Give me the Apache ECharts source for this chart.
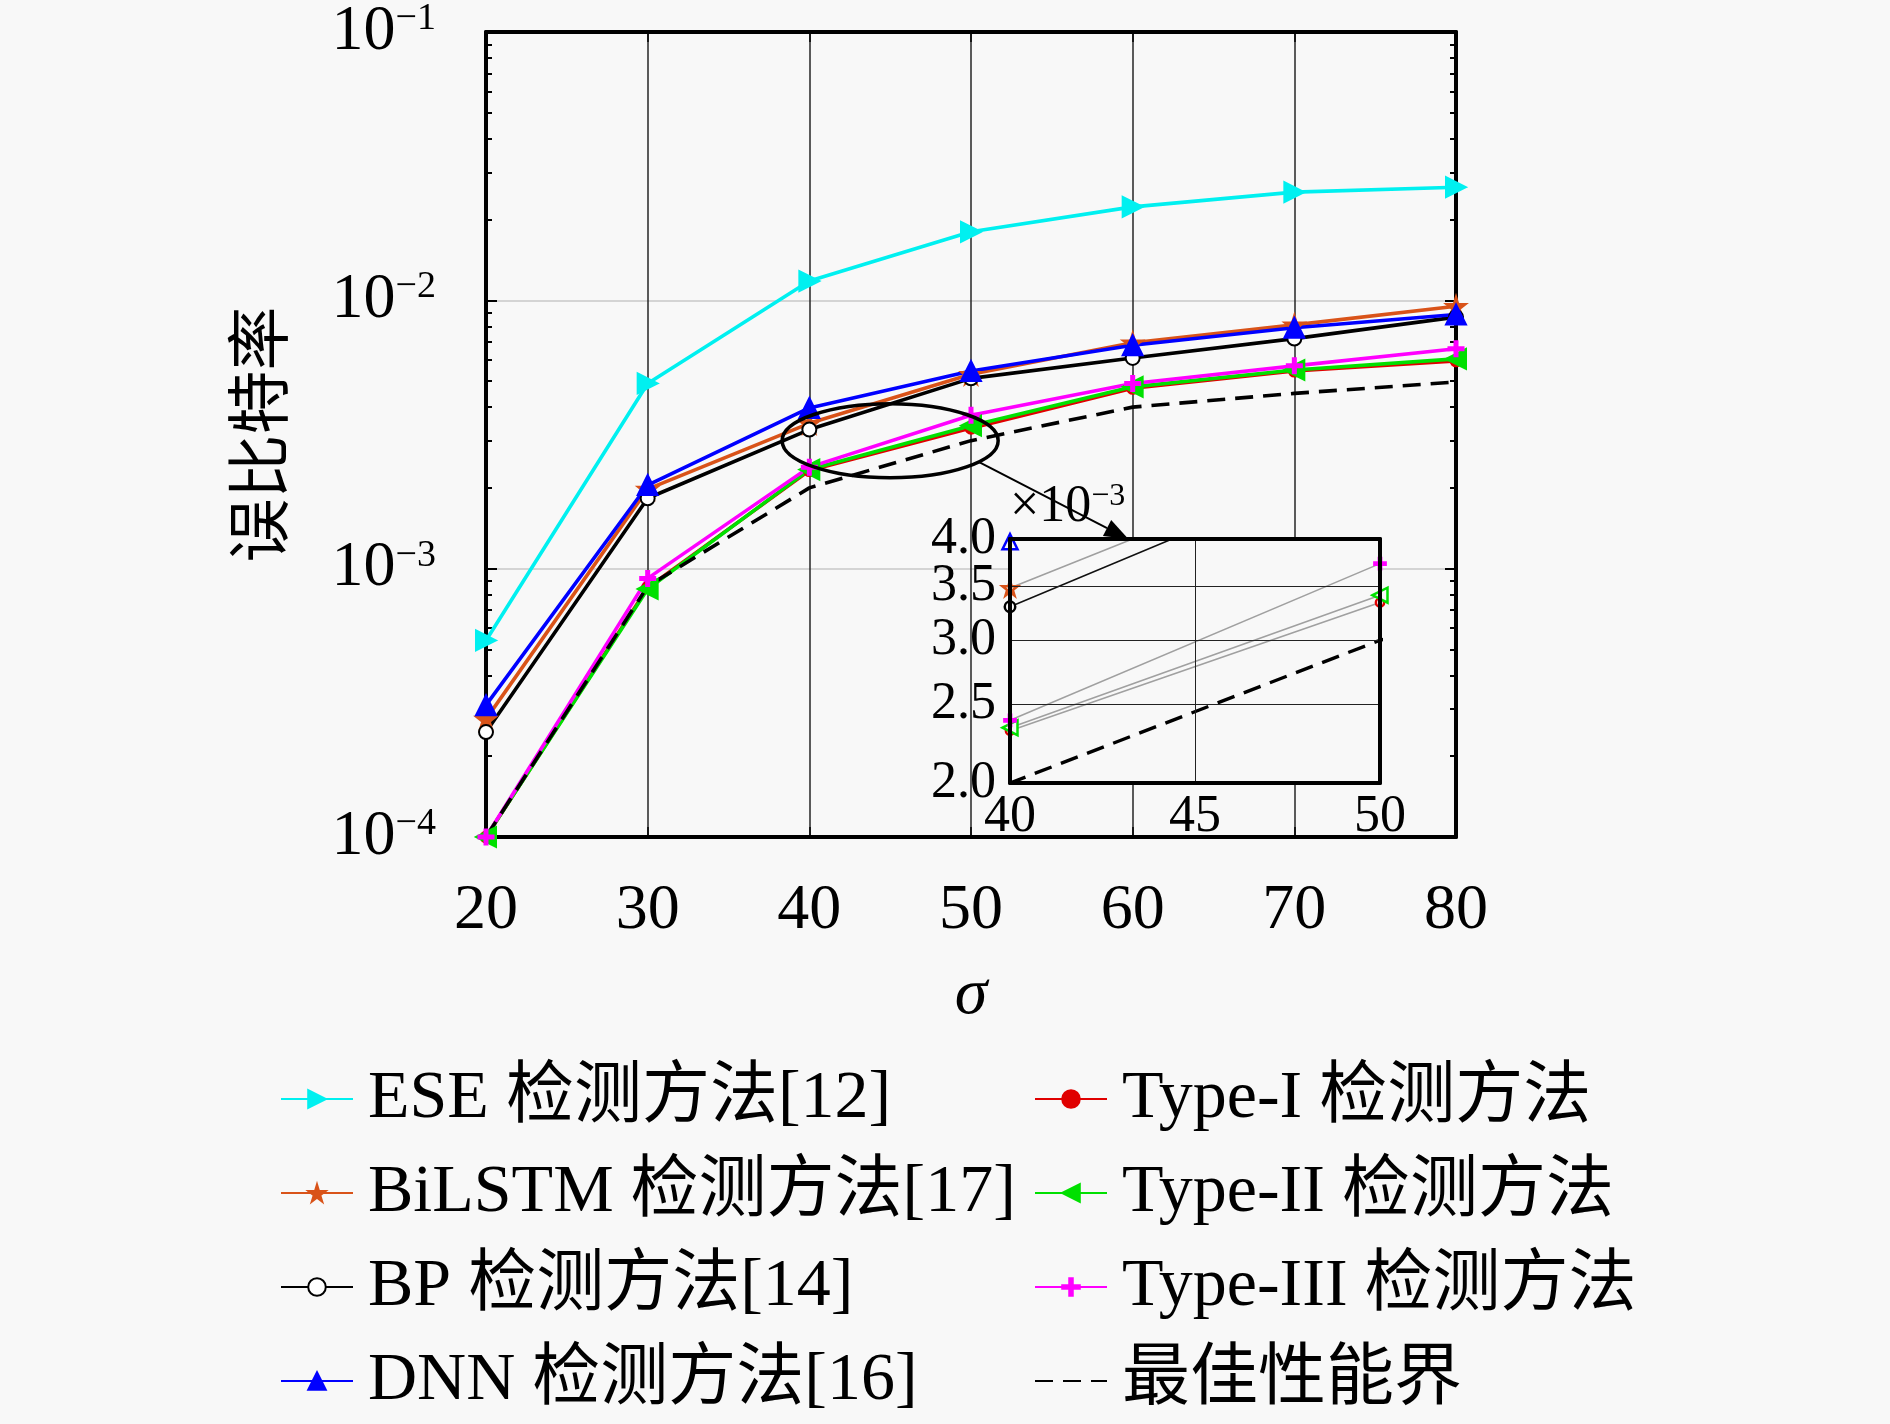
<!DOCTYPE html>
<html>
<head>
<meta charset="utf-8">
<script src="https://cdn.jsdelivr.net/npm/echarts@6/dist/echarts.min.js"></script>
<style>
  html, body { margin: 0; padding: 0; background: #f8f8f8; }
  #chart { width: 1890px; height: 1424px; }
</style>
</head>
<body>
<div id="chart"></div>
<script>
// sigma values (x axis)
var sigma = [20, 30, 40, 50, 60, 70, 80];

// bit error rate of each method
var eseBer    = [5.4e-4, 4.9e-3, 1.18e-2, 1.80e-2, 2.23e-2, 2.53e-2, 2.64e-2];
var bilstmBer = [2.75e-4, 1.98e-3, 3.48e-3, 5.30e-3, 6.95e-3, 8.10e-3, 9.50e-3];
var bpBer     = [2.46e-4, 1.83e-3, 3.30e-3, 5.12e-3, 6.10e-3, 7.20e-3, 8.66e-3];
var dnnBer    = [3.10e-4, 2.05e-3, 3.97e-3, 5.45e-3, 6.80e-3, 7.90e-3, 8.85e-3];
var type1Ber  = [1.0e-4, 8.5e-4, 2.32e-3, 3.34e-3, 4.70e-3, 5.45e-3, 5.95e-3];
var type2Ber  = [1.0e-4, 8.4e-4, 2.34e-3, 3.41e-3, 4.76e-3, 5.50e-3, 6.05e-3];
var type3Ber  = [1.0e-4, 9.2e-4, 2.39e-3, 3.73e-3, 4.90e-3, 5.70e-3, 6.60e-3];
var boundBer  = [1.0e-4, 8.6e-4, 2.00e-3, 3.00e-3, 4.00e-3, 4.50e-3, 4.96e-3];

// tick labels
var xTicks = [20, 30, 40, 50, 60, 70, 80];
var yDecades = [-4, -3, -2, -1];
var yMinorMult = [2, 3, 4, 5, 6, 7, 8, 9];
var insetTicks = [2.0, 2.5, 3.0, 3.5, 4.0];   // x 10^-3

var serif = "'Liberation Serif', 'Noto Sans CJK SC', serif";
var cjk = "'Noto Sans CJK SC', sans-serif";
var bg = '#f8f8f8';

var minorValues = [];
yDecades.slice(0, 3).forEach(function(d) {
    yMinorMult.forEach(function(m) { minorValues.push(m * Math.pow(10, d)); });
});
var insetValues = insetTicks.map(function(t) { return t / 1000; });
// labels are split over two axes so that none of them gets hidden as overlapping
var insetLabelsA = insetValues.filter(function(v, i) { return i % 2 === 0; });
var insetLabelsB = insetValues.filter(function(v, i) { return i % 2 === 1; });

// layout of the main plot and the inset (pixels)
var mainBox = { left: 486, top: 30, width: 970, height: 807 };
var insetBox = { left: 1010, top: 539, width: 370, height: 244 };

var pentagram = 'path://M50,0 L61,35 L98,35 L68,57 L79,91 L50,70 L21,91 L32,57 L2,35 L39,35 Z';
var plus = 'path://M4,0 L6,0 L6,4 L10,4 L10,6 L6,6 L6,10 L4,10 L4,6 L0,6 L0,4 L4,4 Z';

var methods = [
    { name: 'ESE 检测方法[12]',    data: eseBer,    color: '#00f0f0', symbol: 'triangle', rotate: -90, size: 20 },
    { name: 'BiLSTM 检测方法[17]', data: bilstmBer, color: '#d95319', symbol: pentagram, rotate: 0, size: 20 },
    { name: 'BP 检测方法[14]',     data: bpBer,     color: '#000000', symbol: 'emptyCircle', rotate: 0, size: 14 },
    { name: 'DNN 检测方法[16]',    data: dnnBer,    color: '#0000ff', symbol: 'triangle', rotate: 0, size: 20 },
    { name: 'Type-I 检测方法',     data: type1Ber,  color: '#e00000', symbol: 'circle', rotate: 0, size: 11 },
    { name: 'Type-II 检测方法',    data: type2Ber,  color: '#00e000', symbol: 'triangle', rotate: 90, size: 20 },
    { name: 'Type-III 检测方法',   data: type3Ber,  color: '#ff00ff', symbol: plus, rotate: 0, size: 15 },
    { name: '最佳性能界',          data: boundBer,  color: '#000000', symbol: 'none', rotate: 0, size: 0, dashed: true }
];

function pairs(arr) {
    return sigma.map(function(s, i) { return [s, arr[i]]; });
}

var series = [];
methods.forEach(function(m) {
    series.push({
        name: m.name,
        type: 'line',
        xAxisIndex: 0,
        yAxisIndex: 0,
        data: pairs(m.data),
        symbol: m.symbol,
        symbolSize: m.size,
        symbolRotate: m.rotate,
        showSymbol: m.symbol !== 'none',
        itemStyle: m.dashed ? { opacity: 0 } : { color: m.color, borderColor: m.color, borderWidth: 2 },
        lineStyle: { color: m.color, width: 3.6, type: m.dashed ? [18, 10] : 'solid' },
        z: 3
    });
});
// same data again, zoomed in the inset
methods.forEach(function(m) {
    series.push({
        name: 'inset ' + m.name,
        type: 'line',
        xAxisIndex: 2,
        yAxisIndex: 4,
        data: pairs(m.data),
        symbol: m.symbol === 'emptyCircle' ? 'circle' : m.symbol,
        symbolSize: m.size * 0.75,
        symbolRotate: m.rotate,
        showSymbol: m.symbol !== 'none',
        clip: true,
        itemStyle: { color: bg, borderColor: m.color, borderWidth: 2.5 },
        lineStyle: {
            color: m.dashed ? '#000' : (m.color === '#000000' ? '#111' : '#a0a0a0'),
            width: m.dashed ? 3.4 : 1.6,
            type: m.dashed ? [18, 10] : 'solid'
        },
        z: 5
    });
});

function decadeLabel(v) {
    var e = Math.round(Math.log10(v));
    return '{b|10}{s|' + String(e).replace('-', '\u2212') + '}';
}

function insetLabel(v) {
    return (v * 1000).toFixed(1);
}

var decadeRich = {
    b: { fontSize: 64, fontFamily: serif, color: '#000' },
    s: { fontSize: 38, fontFamily: serif, color: '#000', verticalAlign: 'top' }
};

var boxLine = { show: true, lineStyle: { color: '#000', width: 4 } };
var legendText = { fontSize: 68, lineHeight: 68, fontFamily: serif, color: '#000', padding: [0, 0, 0, 10] };

var option = {
    backgroundColor: bg,
    animation: false,
    grid: [
        { left: mainBox.left, top: mainBox.top, width: mainBox.width, height: mainBox.height },
        { left: insetBox.left, top: insetBox.top, width: insetBox.width, height: insetBox.height, z: 4 }
    ],
    legend: [
        {
            data: methods.slice(0, 4).map(function(m) { return m.name; }),
            orient: 'vertical', left: 275, top: 1060,
            itemWidth: 72, itemHeight: 22, itemGap: 26,
            selectedMode: false,
            textStyle: legendText
        },
        {
            data: methods.slice(4).map(function(m) { return m.name; }),
            orient: 'vertical', left: 1029, top: 1060,
            itemWidth: 72, itemHeight: 22, itemGap: 26,
            selectedMode: false,
            textStyle: legendText
        }
    ],
    xAxis: [
        {
            type: 'value', gridIndex: 0, position: 'bottom',
            min: 20, max: 80, interval: 10,
            name: 'σ', nameLocation: 'middle', nameGap: 126,
            nameTextStyle: { fontSize: 66, fontStyle: 'italic', fontFamily: serif, color: '#000' },
            axisLine: boxLine,
            axisTick: { inside: true, length: 10, lineStyle: { color: '#000', width: 1.5 } },
            axisLabel: {
                margin: 42, fontSize: 64, fontFamily: serif, color: '#000',
                customValues: xTicks
            },
            splitLine: { show: true, lineStyle: { color: '#262626', width: 1.5 } }
        },
        {
            type: 'value', gridIndex: 0, position: 'top',
            min: 20, max: 80, interval: 10,
            axisLine: boxLine,
            axisTick: { inside: true, length: 10, lineStyle: { color: '#000', width: 1.5 } },
            axisLabel: { show: false },
            splitLine: { show: false }
        },
        {
            type: 'value', gridIndex: 1, position: 'bottom',
            min: 40, max: 50, interval: 5, z: 6,
            axisLine: boxLine,
            axisTick: { show: false },
            axisLabel: { margin: 8, fontSize: 52, fontFamily: serif, color: '#000', showMinLabel: true, showMaxLabel: true },
            splitLine: { show: true, lineStyle: { color: '#222', width: 1 } }
        },
        {
            type: 'value', gridIndex: 1, position: 'top',
            min: 40, max: 50, interval: 5, z: 6,
            axisLine: boxLine,
            axisTick: { show: false },
            axisLabel: { show: false },
            splitLine: { show: false }
        }
    ],
    yAxis: [
        {
            type: 'log', gridIndex: 0, position: 'left',
            min: 1e-4, max: 1e-1, logBase: 10,
            name: '误比特率', nameLocation: 'middle', nameGap: 196, nameRotate: 90,
            nameTextStyle: { fontSize: 64, fontFamily: cjk, color: '#000' },
            axisLine: boxLine,
            axisTick: { inside: true, length: 11, lineStyle: { color: '#000', width: 2 } },
            axisLabel: { margin: 50, formatter: decadeLabel, rich: decadeRich },
            splitLine: { show: true, lineStyle: { color: '#c8c8c8', width: 1.5 } }
        },
        {
            type: 'log', gridIndex: 0, position: 'right',
            min: 1e-4, max: 1e-1, logBase: 10,
            axisLine: boxLine,
            axisTick: { inside: true, length: 11, lineStyle: { color: '#000', width: 2 } },
            axisLabel: { show: false },
            splitLine: { show: false }
        },
        {
            type: 'log', gridIndex: 0, position: 'left',
            min: 1e-4, max: 1e-1, logBase: 10,
            axisLine: { show: false },
            axisTick: { inside: true, length: 6, customValues: minorValues, lineStyle: { color: '#000', width: 2 } },
            axisLabel: { show: false },
            splitLine: { show: false }
        },
        {
            type: 'log', gridIndex: 0, position: 'right',
            min: 1e-4, max: 1e-1, logBase: 10,
            axisLine: { show: false },
            axisTick: { inside: true, length: 6, customValues: minorValues, lineStyle: { color: '#000', width: 2 } },
            axisLabel: { show: false },
            splitLine: { show: false }
        },
        {
            type: 'log', gridIndex: 1, position: 'left',
            min: 2e-3, max: 4.0002e-3, logBase: 10, z: 6,
            name: '{t|×10}{s|\u22123}', nameLocation: 'end', nameGap: 6,
            nameTextStyle: {
                align: 'left', verticalAlign: 'bottom',
                rich: {
                    t: { fontSize: 52, fontFamily: serif, color: '#000' },
                    s: { fontSize: 32, fontFamily: serif, color: '#000', verticalAlign: 'top' }
                }
            },
            axisLine: boxLine,
            axisTick: { show: false, customValues: insetValues },
            axisLabel: {
                margin: 14, fontSize: 52, fontFamily: serif, color: '#000',
                customValues: insetLabelsA,
                showMinLabel: true, showMaxLabel: true,
                formatter: insetLabel
            },
            splitLine: { show: true, lineStyle: { color: '#222', width: 1 } }
        },
        {
            type: 'log', gridIndex: 1, position: 'right',
            min: 2e-3, max: 4.0002e-3, logBase: 10, z: 6,
            axisLine: boxLine,
            axisTick: { show: false },
            axisLabel: { show: false },
            splitLine: { show: false }
        },
        {
            type: 'log', gridIndex: 1, position: 'left',
            min: 2e-3, max: 4.0002e-3, logBase: 10, z: 6,
            axisLine: { show: false },
            axisTick: { show: false },
            axisLabel: {
                margin: 14, fontSize: 52, fontFamily: serif, color: '#000',
                customValues: insetLabelsB,
                formatter: insetLabel
            },
            splitLine: { show: false }
        }
    ],
    series: series
};

var myChart = echarts.init(document.getElementById('chart'));
myChart.setOption(option);

// ellipse marking the zoomed region and the arrow towards the inset
var c = myChart.convertToPixel({ xAxisIndex: 0, yAxisIndex: 0 }, [45, 3.0e-3]);
var rx = 108, ry = 37;
var ang = 35 * Math.PI / 180;
var start = [c[0] + rx * Math.cos(ang), c[1] + ry * Math.sin(ang)];
var end = myChart.convertToPixel({ xAxisIndex: 2, yAxisIndex: 4 }, [43.2, 4e-3]);
var dx = end[0] - start[0], dy = end[1] - start[1];
var len = Math.sqrt(dx * dx + dy * dy);
var ux = dx / len, uy = dy / len;
var headL = 24, headW = 9;
var base = [end[0] - ux * headL, end[1] - uy * headL];

myChart.setOption({
    graphic: [
        {
            type: 'rect', z: 1,
            shape: { x: insetBox.left, y: insetBox.top, width: insetBox.width, height: insetBox.height },
            style: { fill: bg }
        },
        {
            type: 'ellipse', z: 10,
            shape: { cx: c[0], cy: c[1], rx: rx, ry: ry },
            style: { fill: null, stroke: '#000', lineWidth: 3.5 }
        },
        {
            type: 'line', z: 10,
            shape: { x1: start[0], y1: start[1], x2: base[0], y2: base[1] },
            style: { stroke: '#000', lineWidth: 2 }
        },
        {
            type: 'polygon', z: 10,
            shape: { points: [end, [base[0] - uy * headW, base[1] + ux * headW], [base[0] + uy * headW, base[1] - ux * headW]] },
            style: { fill: '#000' }
        }
    ]
});
</script>
</body>
</html>
